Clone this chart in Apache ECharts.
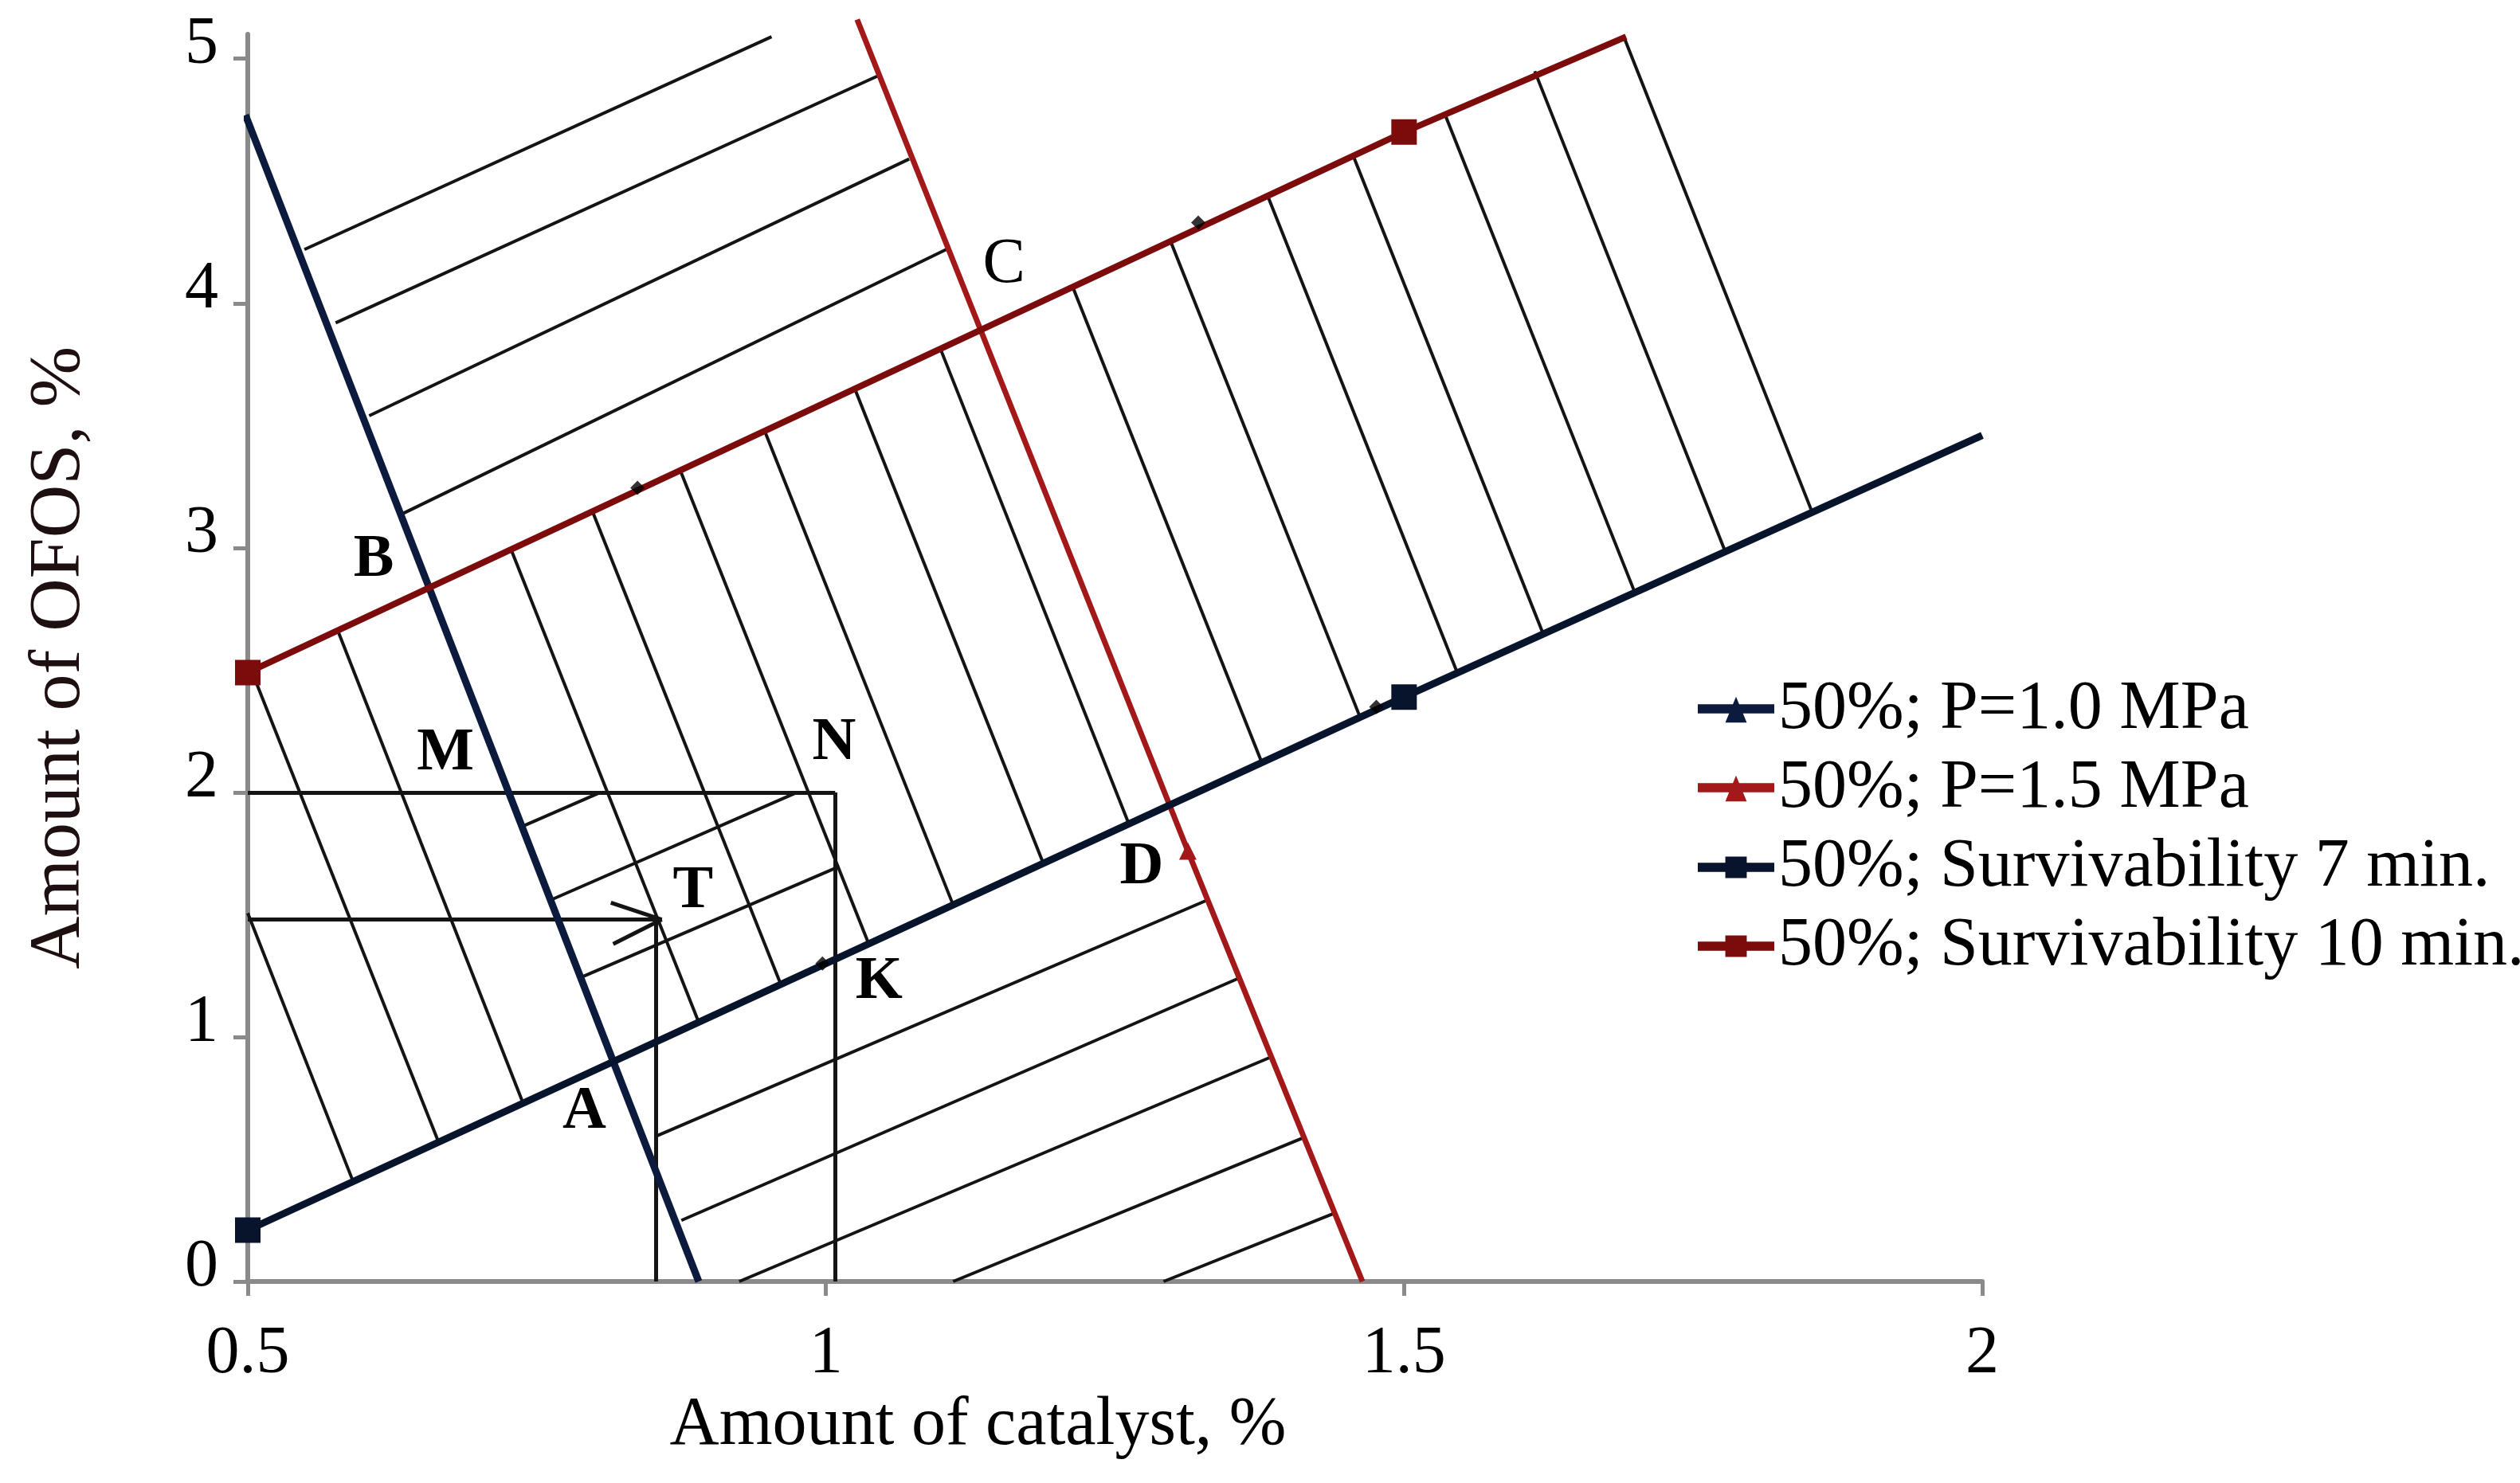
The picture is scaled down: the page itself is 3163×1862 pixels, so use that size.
<!DOCTYPE html>
<html>
<head>
<meta charset="utf-8">
<script src="https://cdn.jsdelivr.net/npm/echarts@6/dist/echarts.min.js"></script>
<style>
  html, body { margin: 0; padding: 0; background: #fff; }
  #chart { width: 3163px; height: 1862px; }
</style>
</head>
<body>
<div id="chart"></div>
<script>
// axis ticks
const xTicks = [0.5, 1, 1.5, 2];
const yTicks = [0, 1, 2, 3, 4, 5];

// main series, [catalyst %, OFOS %]
const p10Line = [[0.498, 4.77], [0.89, 0]];
const p15Line = [[1.027, 5.16], [1.313, 1.76], [1.464, 0]];
const surv7 = [[0.5, 0.21], [1.5, 2.39], [2.0, 3.46]];
const surv10 = [[0.5, 2.49], [1.5, 4.70], [1.692, 5.09]];
const smallPts = [[0.837, 3.245], [1.322, 4.33], [0.997, 1.30], [1.476, 2.35]];

// hatching segments
const hatchTop = [
  [[0.549, 4.22], [0.953, 5.09]],
  [[0.576, 3.92], [1.045, 4.93]],
  [[0.605, 3.54], [1.072, 4.59]],
  [[0.634, 3.14], [1.104, 4.22]],
];
const hatchBand = [
  [[0.5, 1.506], [0.591, 0.41]],
  [[0.503, 2.50], [0.665, 0.57]],
  [[0.578, 2.66], [0.738, 0.73]],
  [[0.728, 2.99], [0.890, 1.06]],
  [[0.798, 3.15], [0.961, 1.215]],
  [[0.874, 3.317], [1.037, 1.381]],
  [[0.947, 3.478], [1.110, 1.54]],
  [[1.025, 3.65], [1.188, 1.71]],
  [[1.099, 3.814], [1.262, 1.871]],
  [[1.2135, 4.066], [1.377, 2.122]],
  [[1.298, 4.254], [1.462, 2.307]],
  [[1.382, 4.44], [1.546, 2.49]],
  [[1.456, 4.603], [1.620, 2.652]],
  [[1.535, 4.777], [1.699, 2.824]],
  [[1.613, 4.949], [1.777, 2.994]],
  [[1.690, 5.09], [1.852, 3.157]],
];
const hatchLow = [
  [[0.853, 0.594], [1.330, 1.56]],
  [[0.875, 0.25], [1.357, 1.24]],
  [[0.925, 0], [1.386, 0.92]],
  [[1.11, 0], [1.414, 0.59]],
  [[1.292, 0], [1.440, 0.28]],
];
const hatchInner = [
  [[0.737, 1.86], [0.805, 2.0]],
  [[0.762, 1.56], [0.975, 2.0]],
  [[0.789, 1.245], [1.008, 1.69]],
];
const guides = [
  [[0.5, 2.0], [1.008, 2.0]],
  [[1.008, 0], [1.008, 2.0]],
  [[0.5, 1.48], [0.858, 1.48]],
  [[0.853, 0], [0.853, 1.48]],
  [[0.814, 1.549], [0.858, 1.48]],
  [[0.816, 1.38], [0.858, 1.48]],
];

// point letters
const ptNames = ['B', 'M', 'N', 'T', 'K', 'A', 'C', 'D'];
const ptX = [0.609, 0.671, 1.007, 0.885, 1.046, 0.791, 1.154, 1.273];
const ptY = [2.95, 2.157, 2.20, 1.593, 1.224, 0.692, 4.155, 1.691];

const seriesNames = [
  '50%; P=1.0 MPa',
  '50%; P=1.5 MPa',
  '50%; Survivability 7 min.',
  '50%; Survivability 10 min.',
];

const serif = '"Liberation Serif", "DejaVu Serif", serif';
const navy = '#0c1a3d';
const navy2 = '#08132c';
const red = '#a31818';
const red2 = '#7c0c0c';

// legend icons: thick bar with the marker on it
const iconTri = 'path://M0,12L100,12L100,24L0,24Z M36,36L50,2L64,36Z';
const iconRect = 'path://M0,12L100,12L100,24L0,24Z M36,4L64,4L64,32L36,32Z';

function endsOnly(arr, size) {
  // marker only on the points that have one in the picture
  return arr.map((p, i) => (i === arr.length - 1 ? { value: p, symbol: 'none' } : { value: p, symbolSize: size }));
}

function hatch(segs, w) {
  return {
    type: 'lines',
    coordinateSystem: 'cartesian2d',
    silent: true,
    z: 2,
    lineStyle: { color: '#141414', width: w, opacity: 1 },
    data: segs.map((s) => ({ coords: s })),
  };
}

const chart = echarts.init(document.getElementById('chart'));
chart.setOption({
  animation: false,
  backgroundColor: '#fff',
  grid: { left: 311, right: 675, top: 43, bottom: 253 },
  legend: {
    data: [
      { name: seriesNames[0], icon: iconTri },
      { name: seriesNames[1], icon: iconTri },
      { name: seriesNames[2], icon: iconRect },
      { name: seriesNames[3], icon: iconRect },
    ],
    orient: 'vertical',
    left: 2126,
    top: 843,
    itemWidth: 96,
    itemHeight: 36,
    itemGap: 13,
    textStyle: { fontFamily: serif, fontSize: 86, lineHeight: 86, color: '#000' },
  },
  xAxis: {
    type: 'value',
    min: 0.5,
    max: 2,
    interval: 0.5,
    name: 'Amount of catalyst, %',
    nameLocation: 'middle',
    nameGap: 130,
    nameTextStyle: { fontFamily: serif, fontSize: 86, color: '#000', padding: [0, 344, 0, 0] },
    axisLine: { lineStyle: { color: '#8a8a8a', width: 6 } },
    axisTick: { show: true, length: 18, lineStyle: { color: '#8a8a8a', width: 5 }, customValues: xTicks },
    axisLabel: { fontFamily: serif, fontSize: 84, color: '#000', margin: 50, customValues: xTicks },
    splitLine: { show: false },
  },
  yAxis: {
    type: 'value',
    min: 0,
    max: 5.1,
    interval: 1,
    name: 'Amount of OFOS, %',
    nameLocation: 'middle',
    nameGap: 190,
    nameTextStyle: { fontFamily: serif, fontSize: 92, color: '#1e1010' },
    axisLine: { lineStyle: { color: '#8a8a8a', width: 6 } },
    axisTick: { show: true, length: 18, lineStyle: { color: '#8a8a8a', width: 5 }, customValues: yTicks },
    axisLabel: {
      fontFamily: serif, fontSize: 84, color: '#000', margin: 37,
      verticalAlign: 'bottom', lineHeight: 34, customValues: yTicks,
    },
    splitLine: { show: false },
  },
  series: [
    hatch(hatchTop, 4),
    hatch(hatchBand, 4),
    hatch(hatchLow, 4),
    hatch(hatchInner, 4),
    hatch(guides, 5),
    {
      name: seriesNames[0],
      type: 'line',
      z: 4,
      clip: false,
      symbol: 'triangle',
      symbolSize: 20,
      showSymbol: false,
      color: navy,
      lineStyle: { color: navy, width: 9 },
      data: p10Line,
    },
    {
      name: seriesNames[1],
      type: 'line',
      z: 4,
      clip: false,
      symbol: 'triangle',
      color: red,
      itemStyle: { color: red },
      lineStyle: { color: red, width: 7 },
      data: p15Line.map((p, i) => (i === 1 ? { value: p, symbolSize: 22 } : { value: p, symbol: 'none' })),
    },
    {
      name: seriesNames[2],
      type: 'line',
      z: 4,
      clip: false,
      symbol: 'rect',
      color: navy2,
      itemStyle: { color: navy2 },
      lineStyle: { color: navy2, width: 9 },
      data: endsOnly(surv7, 32),
    },
    {
      name: seriesNames[3],
      type: 'line',
      z: 4,
      clip: false,
      symbol: 'rect',
      color: red2,
      itemStyle: { color: red2 },
      lineStyle: { color: red2, width: 8 },
      data: endsOnly(surv10, 32),
    },
    {
      name: 'pts',
      type: 'scatter',
      z: 5,
      symbol: 'diamond',
      symbolSize: 18,
      itemStyle: { color: '#000' },
      data: smallPts,
    },
    {
      name: 'letters',
      type: 'scatter',
      z: 6,
      symbolSize: 1,
      itemStyle: { color: 'rgba(0,0,0,0)' },
      label: {
        show: true,
        position: 'inside',
        formatter: '{b}',
        fontFamily: serif,
        fontSize: 76,
        fontWeight: 'bold',
        color: '#000',
        opacity: 1,
      },
      data: ptNames.map((n, i) => ({
        name: n,
        value: [ptX[i], ptY[i]],
        label: n === 'C' ? { fontWeight: 'normal', fontSize: 80 } : undefined,
      })),
    },
  ],
});
</script>
</body>
</html>
